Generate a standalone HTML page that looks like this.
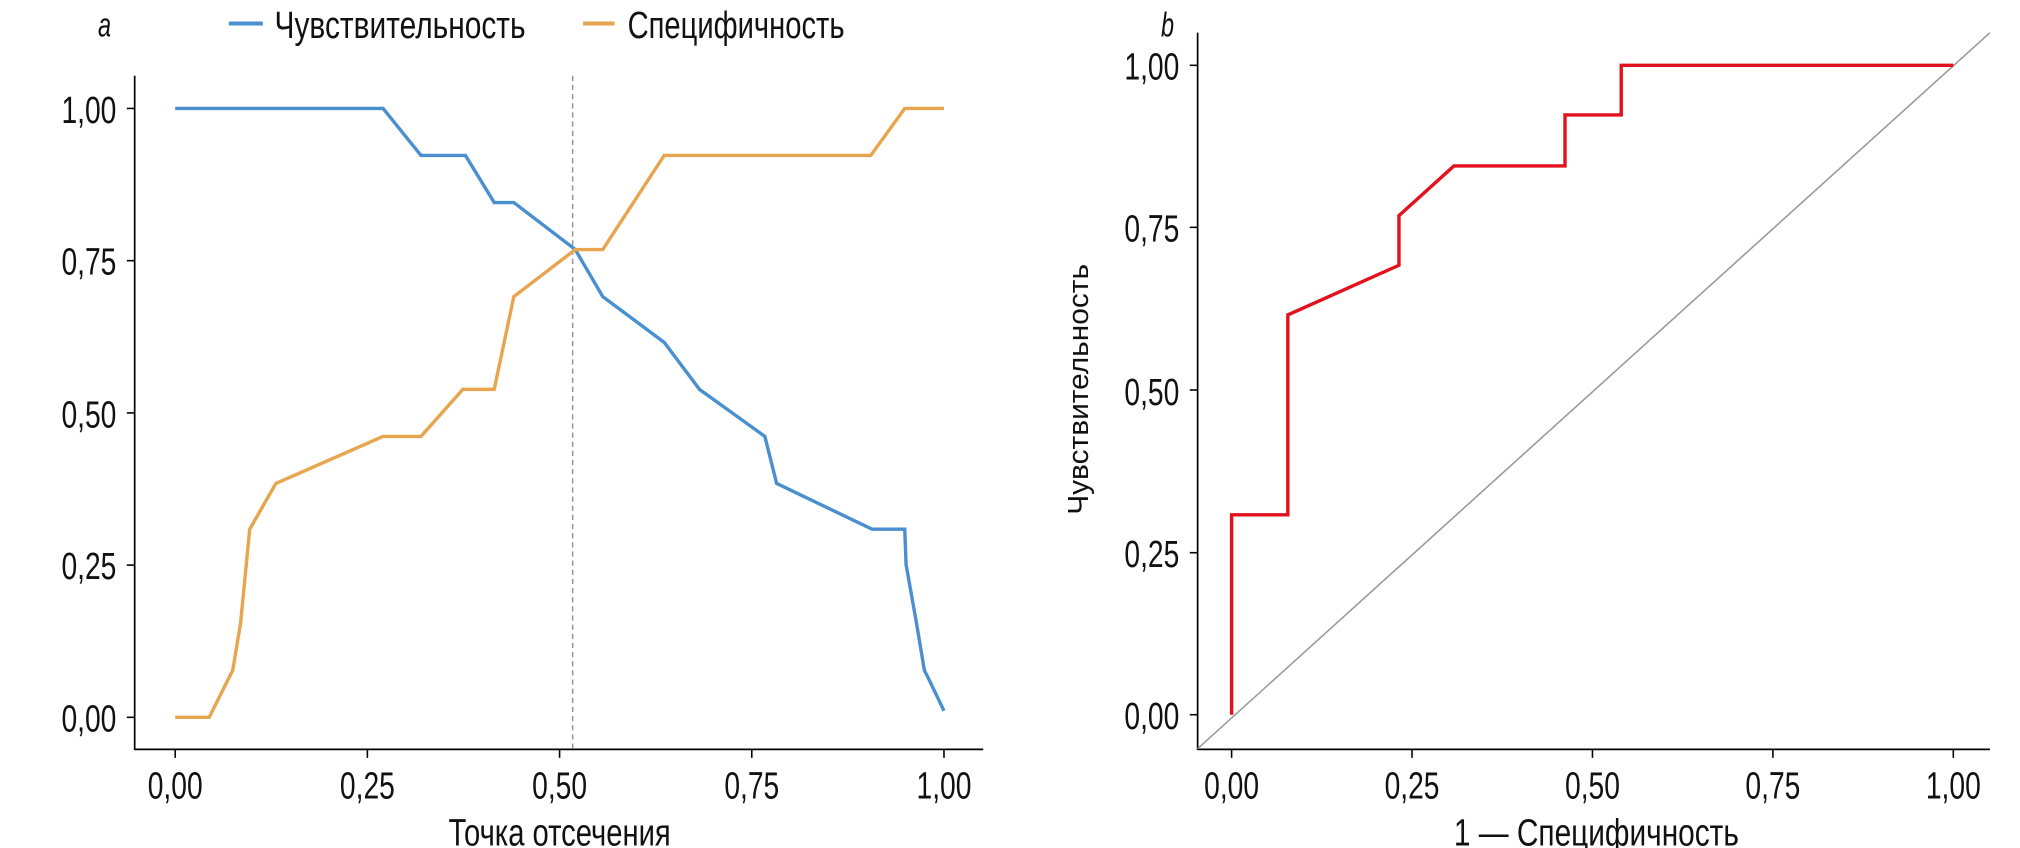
<!DOCTYPE html>
<html><head><meta charset="utf-8"><style>
html,body{margin:0;padding:0;background:#fff;}
svg{display:block;}
text{font-family:"Liberation Sans Narrow","Liberation Sans","DejaVu Sans Condensed",sans-serif;fill:#111;}
</style></head><body>
<svg width="2020" height="848" viewBox="0 0 1545 649" preserveAspectRatio="none" xmlns="http://www.w3.org/2000/svg">
<!-- Panel a -->
<text x="80" y="28" font-size="26" font-style="italic" text-anchor="middle" textLength="10" lengthAdjust="spacingAndGlyphs">a</text>
<line x1="175" y1="18" x2="201" y2="18" stroke="#4a8fd0" stroke-width="3"/>
<text x="210" y="29" font-size="29" textLength="192" lengthAdjust="spacingAndGlyphs">Чувствительность</text>
<line x1="446" y1="18" x2="470" y2="18" stroke="#e8a54f" stroke-width="3"/>
<text x="480" y="29" font-size="29" textLength="166" lengthAdjust="spacingAndGlyphs">Специфичность</text>

<line x1="103" y1="58" x2="103" y2="574" stroke="#000" stroke-width="1.3"/>
<line x1="103" y1="573.5" x2="752" y2="573.5" stroke="#000" stroke-width="1.3"/>
<g stroke="#000" stroke-width="1.2">
<line x1="97" y1="83" x2="103" y2="83"/><line x1="97" y1="199.5" x2="103" y2="199.5"/><line x1="97" y1="316" x2="103" y2="316"/><line x1="97" y1="432.5" x2="103" y2="432.5"/><line x1="97" y1="549" x2="103" y2="549"/>
<line x1="134" y1="574" x2="134" y2="580"/><line x1="281" y1="574" x2="281" y2="580"/><line x1="428" y1="574" x2="428" y2="580"/><line x1="575" y1="574" x2="575" y2="580"/><line x1="722" y1="574" x2="722" y2="580"/>
</g>
<g font-size="29" text-anchor="end">
<text x="89" y="94" textLength="42" lengthAdjust="spacingAndGlyphs">1,00</text><text x="89" y="210" textLength="42" lengthAdjust="spacingAndGlyphs">0,75</text><text x="89" y="327" textLength="42" lengthAdjust="spacingAndGlyphs">0,50</text><text x="89" y="443" textLength="42" lengthAdjust="spacingAndGlyphs">0,25</text><text x="89" y="560" textLength="42" lengthAdjust="spacingAndGlyphs">0,00</text>
</g>
<g font-size="29" text-anchor="middle">
<text x="134" y="611" textLength="42" lengthAdjust="spacingAndGlyphs">0,00</text><text x="281" y="611" textLength="42" lengthAdjust="spacingAndGlyphs">0,25</text><text x="428" y="611" textLength="42" lengthAdjust="spacingAndGlyphs">0,50</text><text x="575" y="611" textLength="42" lengthAdjust="spacingAndGlyphs">0,75</text><text x="722" y="611" textLength="42" lengthAdjust="spacingAndGlyphs">1,00</text>
</g>
<text x="428" y="647" font-size="29" text-anchor="middle" textLength="170" lengthAdjust="spacingAndGlyphs">Точка отсечения</text>
<line x1="438" y1="58" x2="438" y2="573" stroke="#999" stroke-width="1.2" stroke-dasharray="4,3"/>
<polyline fill="none" stroke="#4a8fd0" stroke-width="2.6" points="134,83 293,83 322,119 356,119 378,155 393,155 440,191 461,227 508,262 535,298 585,334 594,370 667,405 692,405 693,432 701,477 707,513 711,521 722,544"/>
<polyline fill="none" stroke="#e8a54f" stroke-width="2.6" points="134,549 160,549 178,513 184,477 191,405 211,370 293,334 322,334 354,298 378,298 393,227 440,191 461,191 508,119 666,119 692,83 722,83"/>

<!-- Panel b -->
<text x="893" y="28" font-size="26" font-style="italic" text-anchor="middle" textLength="10" lengthAdjust="spacingAndGlyphs">b</text>
<line x1="916" y1="25" x2="916" y2="574" stroke="#000" stroke-width="1.3"/>
<line x1="916" y1="573.5" x2="1522" y2="573.5" stroke="#000" stroke-width="1.3"/>
<g stroke="#000" stroke-width="1.2">
<line x1="910" y1="50" x2="916" y2="50"/><line x1="910" y1="174" x2="916" y2="174"/><line x1="910" y1="298.5" x2="916" y2="298.5"/><line x1="910" y1="423" x2="916" y2="423"/><line x1="910" y1="547" x2="916" y2="547"/>
<line x1="942" y1="574" x2="942" y2="580"/><line x1="1080" y1="574" x2="1080" y2="580"/><line x1="1218" y1="574" x2="1218" y2="580"/><line x1="1356" y1="574" x2="1356" y2="580"/><line x1="1494" y1="574" x2="1494" y2="580"/>
</g>
<g font-size="29" text-anchor="end">
<text x="902" y="61" textLength="42" lengthAdjust="spacingAndGlyphs">1,00</text><text x="902" y="185" textLength="42" lengthAdjust="spacingAndGlyphs">0,75</text><text x="902" y="310" textLength="42" lengthAdjust="spacingAndGlyphs">0,50</text><text x="902" y="434" textLength="42" lengthAdjust="spacingAndGlyphs">0,25</text><text x="902" y="558" textLength="42" lengthAdjust="spacingAndGlyphs">0,00</text>
</g>
<g font-size="29" text-anchor="middle">
<text x="942" y="611" textLength="42" lengthAdjust="spacingAndGlyphs">0,00</text><text x="1080" y="611" textLength="42" lengthAdjust="spacingAndGlyphs">0,25</text><text x="1218" y="611" textLength="42" lengthAdjust="spacingAndGlyphs">0,50</text><text x="1356" y="611" textLength="42" lengthAdjust="spacingAndGlyphs">0,75</text><text x="1494" y="611" textLength="42" lengthAdjust="spacingAndGlyphs">1,00</text>
</g>
<text x="1221" y="647" font-size="29" text-anchor="middle" textLength="218" lengthAdjust="spacingAndGlyphs">1 — Специфичность</text>
<text transform="translate(832,298) rotate(-90)" font-size="22" text-anchor="middle" textLength="192" lengthAdjust="spacingAndGlyphs" style="font-family:'Liberation Sans',sans-serif">Чувствительность</text>
<line x1="916" y1="573" x2="1522" y2="25" stroke="#999" stroke-width="1.2"/>
<polyline fill="none" stroke="#e3101e" stroke-width="2.6" points="942,547 942,394 985,394 985,241 1070,203 1070,165 1112,127 1197,127 1197,88 1240,88 1240,50 1494,50"/>
</svg>
</body></html>
